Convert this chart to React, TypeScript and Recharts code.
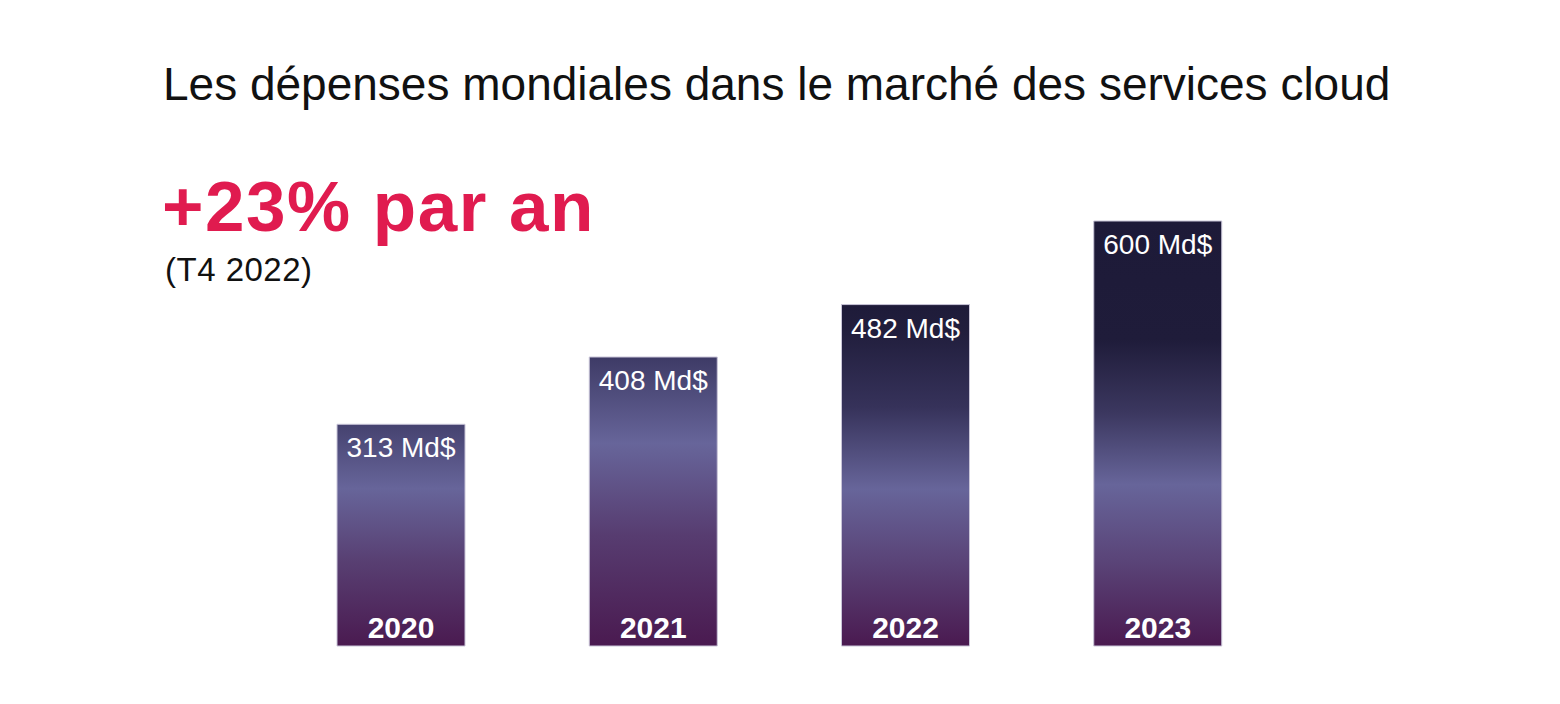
import { BarChart, Bar, XAxis, YAxis, LabelList, Cell } from 'recharts'

const years = ['2020', '2021', '2022', '2023']
const spending = [313, 408, 482, 600]
const valueLabels = ['313 Md$', '408 Md$', '482 Md$', '600 Md$']

const TITLE = 'Les dépenses mondiales dans le marché des services cloud'
const HEADLINE = '+23% par an'
const SUBHEAD = '(T4 2022)'

const data = years.map((year, i) => ({ year, value: spending[i], label: valueLabels[i] }))

const FONT = '"Liberation Sans", Arial, Helvetica, sans-serif'

// each bar in the original has its own hand-tuned gradient
const NAVY = '#1d1a38'
const LAVENDER = '#67659a'
const PLUM = '#4a1a50'
const barGradients: { offset: number; color: string }[][] = [
  [
    { offset: 0, color: '#45426f' },
    { offset: 0.29, color: LAVENDER },
    { offset: 0.62, color: '#583f72' },
    { offset: 1, color: PLUM },
  ],
  [
    { offset: 0, color: '#3e3b66' },
    { offset: 0.3, color: LAVENDER },
    { offset: 0.62, color: '#573c70' },
    { offset: 1, color: PLUM },
  ],
  [
    { offset: 0, color: '#1e1b39' },
    { offset: 0.08, color: '#211e3d' },
    { offset: 0.3, color: '#36325a' },
    { offset: 0.54, color: LAVENDER },
    { offset: 0.75, color: '#5a4478' },
    { offset: 1, color: PLUM },
  ],
  [
    { offset: 0, color: NAVY },
    { offset: 0.28, color: '#1f1c3a' },
    { offset: 0.45, color: '#3b375f' },
    { offset: 0.62, color: LAVENDER },
    { offset: 0.8, color: '#5a4478' },
    { offset: 1, color: PLUM },
  ],
]

function TopLabel(props: any) {
  const { x, y, width, index } = props
  return (
    <text
      x={x + width / 2}
      y={y + 33}
      textAnchor="middle"
      fill="#ffffff"
      fontSize={28}
      fontFamily={FONT}
    >
      {valueLabels[index]}
    </text>
  )
}

function BottomLabel(props: any) {
  const { x, y, width, height, index } = props
  return (
    <text
      x={x + width / 2}
      y={y + height - 8}
      textAnchor="middle"
      fill="#ffffff"
      fontSize={30}
      fontWeight={700}
      fontFamily={FONT}
    >
      {years[index]}
    </text>
  )
}

export default function App() {
  return (
    <div style={{ position: 'absolute', left: 0, top: 0, width: 1560, height: 704, background: '#fff' }}>
      <BarChart
        width={1560}
        height={704}
        data={data}
        margin={{ top: 221, right: 276, bottom: 58, left: 275 }}
      >
        <defs>
          {barGradients.map((stops, i) => (
            <linearGradient key={i} id={`barFill${i}`} x1="0" y1="0" x2="0" y2="1">
              {stops.map((s, j) => (
                <stop key={j} offset={s.offset} stopColor={s.color} />
              ))}
            </linearGradient>
          ))}
        </defs>
        <XAxis dataKey="year" hide />
        <YAxis hide domain={[0, 600]} />
        <Bar
          dataKey="value"
          barSize={128}
          stroke="#c9c5d8"
          strokeWidth={1}
          isAnimationActive={false}
        >
          {data.map((_, i) => (
            <Cell key={i} fill={`url(#barFill${i})`} />
          ))}
          <LabelList dataKey="label" content={<TopLabel />} />
          <LabelList dataKey="year" content={<BottomLabel />} />
        </Bar>
      </BarChart>
      <svg
        width={1560}
        height={704}
        style={{ position: 'absolute', left: 0, top: 0, pointerEvents: 'none' }}
      >
        <text x={163} y={100} fontSize={46} fontFamily={FONT} fill="#111111">
          {TITLE}
        </text>
        <text x={162} y={231} fontSize={71} fontWeight={700} letterSpacing={1.5} fontFamily={FONT} fill="#e01b4f">
          {HEADLINE}
        </text>
        <text x={165} y={281} fontSize={33} letterSpacing={0.5} fontFamily={FONT} fill="#111111">
          {SUBHEAD}
        </text>
      </svg>
    </div>
  )
}
